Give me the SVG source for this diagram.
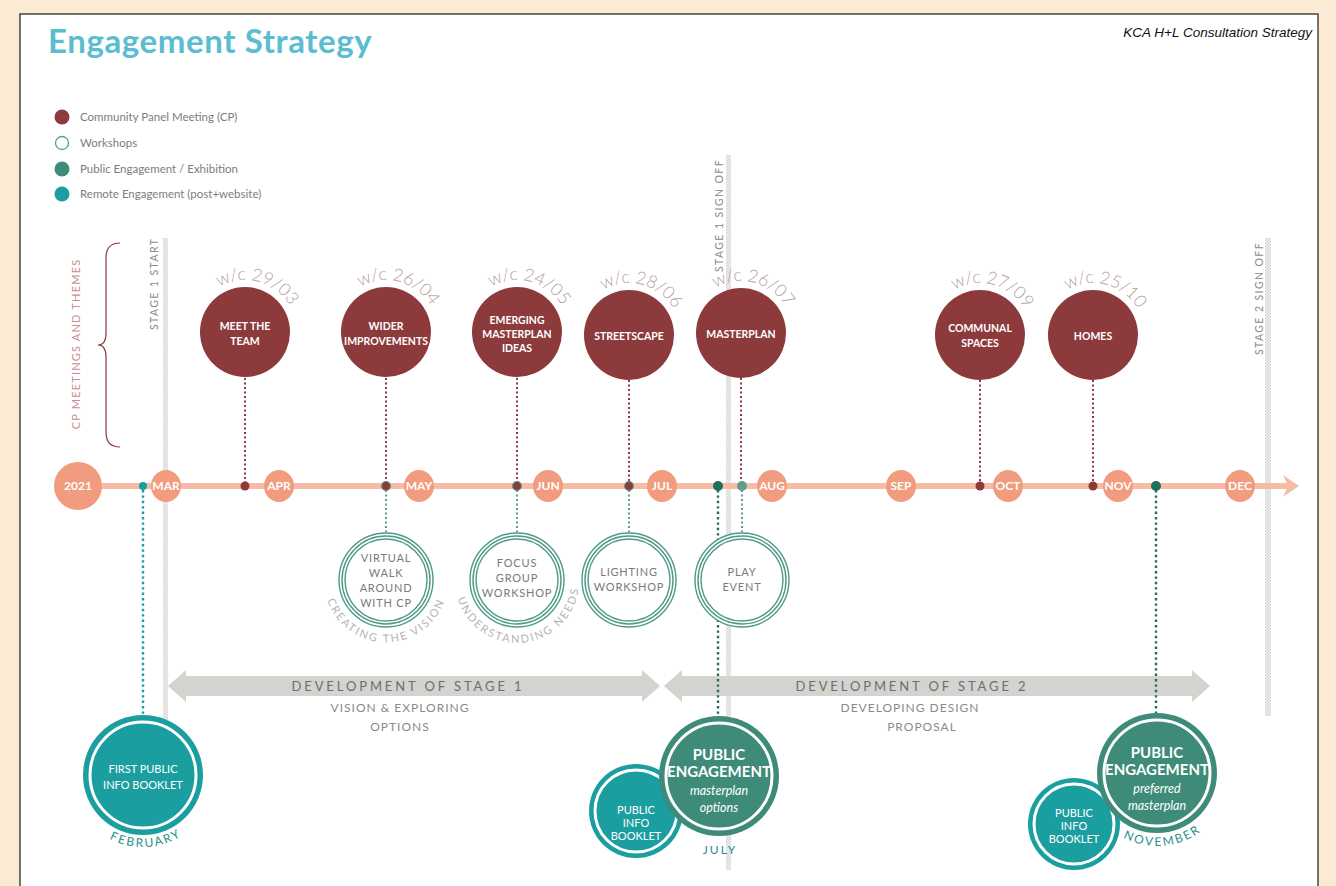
<svg xmlns="http://www.w3.org/2000/svg" xmlns:xlink="http://www.w3.org/1999/xlink" width="1336" height="886" viewBox="0 0 1336 886">
  <style>
    .sans { font-family: Lato, "Open Sans", "Liberation Sans", sans-serif; }
    .legend { font-family: Lato, "Liberation Sans", sans-serif; font-size: 11.5px; fill: #7d7d7d; }
    .vert { font-family: Lato, "Liberation Sans", sans-serif; font-size: 10.5px; fill: #8a8a8a; letter-spacing: 1.4px; }
    .cp { fill: #8c3a3c; }
    .cpt { font-family: Lato, "Liberation Sans", sans-serif; font-size: 10.5px; font-weight: bold; fill: #ffffff; text-anchor: middle; }
    .wc { font-family: Lato, "Liberation Sans", sans-serif; font-size: 17.5px; font-weight: 300; fill: #b59ca2; }
    .month { fill: #f19b7f; }
    .mt { font-family: Lato, "Liberation Sans", sans-serif; font-size: 12px; font-weight: bold; fill: #ffffff; text-anchor: middle; }
    .ring { fill: #ffffff; stroke: #4f9a88; stroke-width: 1.4; }
    .wt { font-family: Lato, "Liberation Sans", sans-serif; font-size: 11px; fill: #7a7a7a; text-anchor: middle; letter-spacing: 0.8px; }
    .arct { font-family: Lato, "Liberation Sans", sans-serif; font-size: 11px; fill: #b4b4b4; letter-spacing: 2px; }
    .dotcp { stroke: #8c3a3c; stroke-width: 2; stroke-dasharray: 2 2.5; fill: none; }
    .dotws { stroke: #5e9e8a; stroke-width: 2; stroke-dasharray: 2 2.5; fill: none; }
    .dotpe { stroke: #1f6e5e; stroke-width: 2.4; stroke-dasharray: 2.4 3; fill: none; }
    .dotre { stroke: #1b9e9f; stroke-width: 2.4; stroke-dasharray: 2.4 3; fill: none; }
    .teal { fill: #1b9e9f; }
    .green { fill: #3d8b78; }
    .wring { fill: none; stroke: #ffffff; stroke-width: 3; }
    .bt { font-family: Lato, "Liberation Sans", sans-serif; font-size: 11px; fill: #ffffff; text-anchor: middle; }
    .pe { font-family: Lato, "Liberation Sans", sans-serif; font-size: 15px; font-weight: bold; fill: #ffffff; text-anchor: middle; }
    .pei { font-family: Lato, "Liberation Sans", sans-serif; font-size: 12.5px; font-style: italic; fill: #ffffff; text-anchor: middle; }
    .mon { font-family: Lato, "Liberation Sans", sans-serif; font-size: 12px; fill: #1f8f8c; letter-spacing: 2px; }
    .band { fill: #d3d3cf; }
    .bandt { font-family: Lato, "Liberation Sans", sans-serif; font-size: 13px; fill: #6e6e6e; text-anchor: middle; letter-spacing: 2.9px; }
    .subt { font-family: Lato, "Liberation Sans", sans-serif; font-size: 12px; fill: #8a8a8a; text-anchor: middle; letter-spacing: 1px; }
  </style>
  <defs>
    <pattern id="hatch" width="3" height="3" patternUnits="userSpaceOnUse">
      <rect width="3" height="3" fill="#ececec"/>
      <path d="M0,3 L3,0" stroke="#cdcdcd" stroke-width="0.8"/>
    </pattern>
    <!-- arcs for the week labels above each panel meeting -->
    <path id="a1" d="M213,291 A52,52 0 0 1 293.2,312.5"/>
    <path id="a2" d="M354,291 A52,52 0 0 1 434.2,312.5"/>
    <path id="a3" d="M485,291 A52,52 0 0 1 565.2,312.5"/>
    <path id="a4" d="M597,294 A52,52 0 0 1 677.2,315.5"/>
    <path id="a5" d="M709,292 A52,52 0 0 1 789.2,313.5"/>
    <path id="a6" d="M948,294 A52,52 0 0 1 1028.2,315.5"/>
    <path id="a7" d="M1061,294 A52,52 0 0 1 1141.2,315.5"/>
    <!-- arcs under circles -->
    <path id="b1" d="M326,596 A62,62 0 0 0 446,596"/>
    <path id="b2" d="M455.6,589 A62,62 0 0 0 579,578"/>
    <path id="b3" d="M101.7,834 A72,72 0 0 0 189.3,830.2"/>
    <path id="b4" d="M1115.1,832.8 A73,73 0 0 0 1208.6,824.6"/>
  </defs>

  <!-- page -->
  <rect x="0" y="0" width="1336" height="886" fill="#fcebd4"/>
  <rect x="20" y="14" width="1298" height="880" fill="#ffffff" stroke="#1a1a1a" stroke-width="1.2"/>

  <text x="48" y="53" class="sans" font-size="33" font-weight="bold" letter-spacing="0.6" fill="#5bbdd0">Engagement Strategy</text>
  <text x="1312" y="37" font-family="'Liberation Sans Narrow', 'Liberation Sans', sans-serif" font-size="13.5" font-style="italic" fill="#111111" text-anchor="end">KCA H+L Consultation Strategy</text>

  <!-- legend -->
  <g id="legend">
    <circle cx="62" cy="117" r="7.5" class="cp"/>
    <text x="80" y="121" class="legend">Community Panel Meeting (CP)</text>
    <circle cx="62" cy="143" r="6.5" fill="#ffffff" stroke="#5e9e8a" stroke-width="1.3"/>
    <text x="80" y="147" class="legend">Workshops</text>
    <circle cx="62" cy="169" r="7.5" class="green"/>
    <text x="80" y="173" class="legend">Public Engagement / Exhibition</text>
    <circle cx="62" cy="194" r="7.5" class="teal"/>
    <text x="80" y="198" class="legend">Remote Engagement (post+website)</text>
  </g>

  <!-- side label and brace -->
  <text transform="rotate(-90 80 344)" x="80" y="344" class="sans" font-size="11" fill="#c98e92" text-anchor="middle" letter-spacing="1.2">CP MEETINGS AND THEMES</text>
  <path d="M120,243 Q106,243 106,258 L106,333 Q106,345 98,345 Q106,345 106,357 L106,432 Q106,447 120,447" fill="none" stroke="#8c3a3c" stroke-width="1.2"/>

  <!-- stage markers -->
  <g id="stage-lines">
    <rect x="163" y="238" width="5" height="482" fill="url(#hatch)"/>
    <rect x="726" y="155" width="5" height="715" fill="url(#hatch)"/>
    <rect x="1265" y="238" width="6" height="478" fill="url(#hatch)"/>
    <text transform="rotate(-90 158 330)" x="158" y="330" class="vert">STAGE 1 START</text>
    <text transform="rotate(-90 723 272)" x="723" y="272" class="vert">STAGE 1 SIGN OFF</text>
    <text transform="rotate(-90 1263 355)" x="1263" y="355" class="vert">STAGE 2 SIGN OFF</text>
  </g>

  <!-- stage bands -->
  <g id="stage1-band">
    <polygon class="band" points="168,686 186,670 186,676 642,676 642,670 660,686 642,702 642,696 186,696 186,702"/>
    <text x="408" y="691" class="bandt">DEVELOPMENT OF STAGE 1</text>
    <text x="400" y="712" class="subt">VISION &amp; EXPLORING</text>
    <text x="400" y="731" class="subt">OPTIONS</text>
  </g>
  <g id="stage2-band">
    <polygon class="band" points="664,686 682,670 682,676 1192,676 1192,670 1210,686 1192,702 1192,696 682,696 682,702"/>
    <text x="912" y="691" class="bandt">DEVELOPMENT OF STAGE 2</text>
    <text x="910" y="712" class="subt">DEVELOPING DESIGN</text>
    <text x="922" y="731" class="subt">PROPOSAL</text>
  </g>

  <!-- connectors -->
  <g id="connectors">
    <line x1="245" y1="378" x2="245" y2="484" class="dotcp"/>
    <line x1="386" y1="378" x2="386" y2="484" class="dotcp"/>
    <line x1="517" y1="378" x2="517" y2="484" class="dotcp"/>
    <line x1="629" y1="380" x2="629" y2="484" class="dotcp"/>
    <line x1="741" y1="378" x2="741" y2="484" class="dotcp"/>
    <line x1="980" y1="380" x2="980" y2="484" class="dotcp"/>
    <line x1="1093" y1="380" x2="1093" y2="484" class="dotcp"/>
    <line x1="386" y1="490" x2="386" y2="532" class="dotws"/>
    <line x1="517" y1="490" x2="517" y2="532" class="dotws"/>
    <line x1="629" y1="490" x2="629" y2="532" class="dotws"/>
    <line x1="742" y1="490" x2="742" y2="532" class="dotws"/>
    <line x1="143" y1="490" x2="143" y2="715" class="dotre"/>
    <line x1="718" y1="490" x2="718" y2="716" class="dotpe"/>
    <line x1="1156" y1="490" x2="1156" y2="713" class="dotpe"/>
  </g>

  <!-- timeline -->
  <g id="timeline">
    <line x1="90" y1="486" x2="1290" y2="486" stroke="#f6bca6" stroke-width="6"/>
    <polygon points="1283,475 1299,486 1283,497 1288,486" fill="#f6bca6"/>
    <circle cx="78" cy="486" r="24" class="month"/>
    <text x="78" y="490" class="mt">2021</text>
    <ellipse cx="166" cy="486" rx="15" ry="16" class="month"/><text x="166" y="490" class="mt">MAR</text>
    <ellipse cx="279" cy="486" rx="15" ry="16" class="month"/><text x="279" y="490" class="mt">APR</text>
    <ellipse cx="419" cy="486" rx="15" ry="16" class="month"/><text x="419" y="490" class="mt">MAY</text>
    <ellipse cx="548" cy="486" rx="15" ry="16" class="month"/><text x="548" y="490" class="mt">JUN</text>
    <ellipse cx="662" cy="486" rx="15" ry="16" class="month"/><text x="662" y="490" class="mt">JUL</text>
    <ellipse cx="772" cy="486" rx="15" ry="16" class="month"/><text x="772" y="490" class="mt">AUG</text>
    <ellipse cx="901" cy="486" rx="15" ry="16" class="month"/><text x="901" y="490" class="mt">SEP</text>
    <ellipse cx="1008" cy="486" rx="15" ry="16" class="month"/><text x="1008" y="490" class="mt">OCT</text>
    <ellipse cx="1118" cy="486" rx="15" ry="16" class="month"/><text x="1118" y="490" class="mt">NOV</text>
    <ellipse cx="1240" cy="486" rx="15" ry="16" class="month"/><text x="1240" y="490" class="mt">DEC</text>
    <circle cx="143" cy="486" r="4" class="teal"/>
    <circle cx="245" cy="486" r="4.5" class="cp"/>
    <circle cx="386" cy="486" r="4.5" class="cp" stroke="#5e9e8a" stroke-width="1.2"/>
    <circle cx="517" cy="486" r="4.5" class="cp" stroke="#5e9e8a" stroke-width="1.2"/>
    <circle cx="629" cy="486" r="4.5" class="cp" stroke="#5e9e8a" stroke-width="1.2"/>
    <circle cx="718" cy="486" r="5" fill="#1f6e5e"/>
    <circle cx="742" cy="486" r="5" fill="#5e9e8a"/>
    <circle cx="980" cy="486" r="4.5" class="cp"/>
    <circle cx="1093" cy="486" r="4.5" class="cp"/>
    <circle cx="1156" cy="486" r="5" fill="#1f6e5e"/>
  </g>

  <!-- community panel meetings -->
  <g id="cp-meet-the-team">
    <circle cx="245" cy="332" r="45" class="cp"/>
    <text class="cpt"><tspan x="245" y="330">MEET THE</tspan><tspan x="245" y="345">TEAM</tspan></text>
    <text class="wc"><textPath href="#a1" startOffset="50%" text-anchor="middle">w/c 29/03</textPath></text>
  </g>
  <g id="cp-wider-improvements">
    <circle cx="386" cy="332" r="45" class="cp"/>
    <text class="cpt"><tspan x="386" y="330">WIDER</tspan><tspan x="386" y="345">IMPROVEMENTS</tspan></text>
    <text class="wc"><textPath href="#a2" startOffset="50%" text-anchor="middle">w/c 26/04</textPath></text>
  </g>
  <g id="cp-emerging-masterplan">
    <circle cx="517" cy="332" r="45" class="cp"/>
    <text class="cpt"><tspan x="517" y="324">EMERGING</tspan><tspan x="517" y="338">MASTERPLAN</tspan><tspan x="517" y="352">IDEAS</tspan></text>
    <text class="wc"><textPath href="#a3" startOffset="50%" text-anchor="middle">w/c 24/05</textPath></text>
  </g>
  <g id="cp-streetscape">
    <circle cx="629" cy="335" r="45" class="cp"/>
    <text x="629" y="340" class="cpt">STREETSCAPE</text>
    <text class="wc"><textPath href="#a4" startOffset="50%" text-anchor="middle">w/c 28/06</textPath></text>
  </g>
  <g id="cp-masterplan">
    <circle cx="741" cy="333" r="45" class="cp"/>
    <text x="741" y="338" class="cpt">MASTERPLAN</text>
    <text class="wc"><textPath href="#a5" startOffset="50%" text-anchor="middle">w/c 26/07</textPath></text>
  </g>
  <g id="cp-communal-spaces">
    <circle cx="980" cy="335" r="45" class="cp"/>
    <text class="cpt"><tspan x="980" y="332">COMMUNAL</tspan><tspan x="980" y="347">SPACES</tspan></text>
    <text class="wc"><textPath href="#a6" startOffset="50%" text-anchor="middle">w/c 27/09</textPath></text>
  </g>
  <g id="cp-homes">
    <circle cx="1093" cy="335" r="45" class="cp"/>
    <text x="1093" y="340" class="cpt">HOMES</text>
    <text class="wc"><textPath href="#a7" startOffset="50%" text-anchor="middle">w/c 25/10</textPath></text>
  </g>

  <!-- workshops -->
  <g id="ws-virtual-walk">
    <circle cx="386" cy="580" r="47" class="ring"/>
    <circle cx="386" cy="580" r="44" class="ring"/>
    <circle cx="386" cy="580" r="41" class="ring"/>
    <text class="wt"><tspan x="386" y="562">VIRTUAL</tspan><tspan x="386" y="577">WALK</tspan><tspan x="386" y="592">AROUND</tspan><tspan x="386" y="607">WITH CP</tspan></text>
    <text class="arct"><textPath href="#b1" startOffset="50%" text-anchor="middle">CREATING THE VISION</textPath></text>
  </g>
  <g id="ws-focus-group">
    <circle cx="517" cy="580" r="47" class="ring"/>
    <circle cx="517" cy="580" r="44" class="ring"/>
    <circle cx="517" cy="580" r="41" class="ring"/>
    <text class="wt"><tspan x="517" y="567">FOCUS</tspan><tspan x="517" y="582">GROUP</tspan><tspan x="517" y="597">WORKSHOP</tspan></text>
    <text class="arct"><textPath href="#b2" startOffset="50%" text-anchor="middle">UNDERSTANDING NEEDS</textPath></text>
  </g>
  <g id="ws-lighting">
    <circle cx="629" cy="580" r="47" class="ring"/>
    <circle cx="629" cy="580" r="44" class="ring"/>
    <circle cx="629" cy="580" r="41" class="ring"/>
    <text class="wt"><tspan x="629" y="576">LIGHTING</tspan><tspan x="629" y="591">WORKSHOP</tspan></text>
  </g>
  <g id="ws-play-event">
    <circle cx="742" cy="580" r="47" class="ring"/>
    <circle cx="742" cy="580" r="44" class="ring"/>
    <circle cx="742" cy="580" r="41" class="ring"/>
    <text class="wt"><tspan x="742" y="576">PLAY</tspan><tspan x="742" y="591">EVENT</tspan></text>
  </g>

  <!-- remote and public engagement -->
  <g id="first-booklet">
    <circle cx="143" cy="775" r="60" class="teal"/>
    <circle cx="143" cy="775" r="53" class="wring"/>
    <text class="bt" font-size="12"><tspan x="143" y="773">FIRST PUBLIC</tspan><tspan x="143" y="789">INFO BOOKLET</tspan></text>
    <text class="mon"><textPath href="#b3" startOffset="50%" text-anchor="middle">FEBRUARY</textPath></text>
  </g>
  <g id="july-booklet">
    <circle cx="636" cy="811" r="47" class="teal"/>
    <circle cx="636" cy="811" r="41" class="wring"/>
    <text class="bt"><tspan x="636" y="814">PUBLIC</tspan><tspan x="636" y="827">INFO</tspan><tspan x="636" y="840">BOOKLET</tspan></text>
  </g>
  <g id="july-engagement">
    <circle cx="719" cy="776" r="60" class="green"/>
    <circle cx="719" cy="776" r="53" class="wring"/>
    <text class="pe"><tspan x="719" y="760">PUBLIC</tspan><tspan x="719" y="777">ENGAGEMENT</tspan></text>
    <text class="pei"><tspan x="719" y="795">masterplan</tspan><tspan x="719" y="812">options</tspan></text>
    <text x="720" y="854" class="mon" fill="#2f6e66" text-anchor="middle">JULY</text>
  </g>
  <g id="november-booklet">
    <circle cx="1074" cy="824" r="46" class="teal"/>
    <circle cx="1074" cy="824" r="40" class="wring"/>
    <text class="bt"><tspan x="1074" y="817">PUBLIC</tspan><tspan x="1074" y="830">INFO</tspan><tspan x="1074" y="843">BOOKLET</tspan></text>
  </g>
  <g id="november-engagement">
    <circle cx="1157" cy="773" r="60" class="green"/>
    <circle cx="1157" cy="773" r="53" class="wring"/>
    <text class="pe"><tspan x="1157" y="758">PUBLIC</tspan><tspan x="1157" y="775">ENGAGEMENT</tspan></text>
    <text class="pei"><tspan x="1157" y="793">preferred</tspan><tspan x="1157" y="810">masterplan</tspan></text>
    <text class="mon" fill="#2f6e66"><textPath href="#b4" startOffset="50%" text-anchor="middle">NOVEMBER</textPath></text>
  </g>
</svg>
